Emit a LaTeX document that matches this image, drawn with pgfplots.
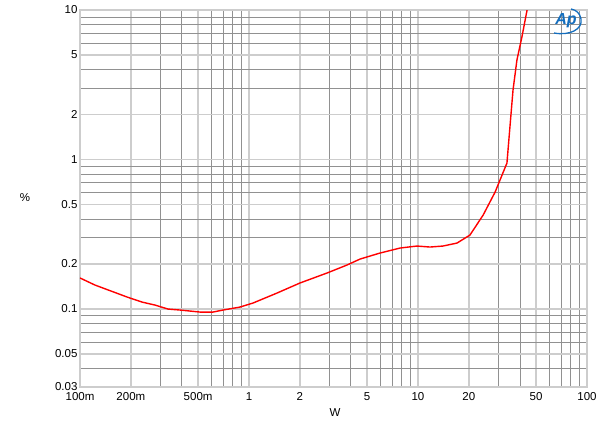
\documentclass[border=0pt]{standalone}
\usepackage{pgfplots}
\pgfplotsset{compat=1.18}
\usepackage{fontspec}
\setmainfont{Liberation Sans}
\definecolor{apblue}{RGB}{20,110,190}
\definecolor{majgrid}{RGB}{205,205,205}
\definecolor{mingrid}{RGB}{145,145,145}
\begin{document}
\begin{tikzpicture}[x=1pt,y=1pt]
\begin{axis}[
  at={(0,0)}, anchor=south west,
  scale only axis, width=507pt, height=377pt,
  xmode=log, ymode=log,
  xmin=0.1, xmax=100, ymin=0.03, ymax=10,
  xtick={0.1,0.2,0.5,1,2,5,10,20,50,100},
  xticklabels={100m,200m,500m,1,2,5,10,20,50,100},
  minor xtick={0.3,0.4,0.6,0.7,0.8,0.9,3,4,6,7,8,9,30,40,60,70,80,90},
  ytick={0.03,0.05,0.1,0.2,0.5,1,2,5,10},
  yticklabels={0.03,0.05,0.1,0.2,0.5,1,2,5,10},
  minor ytick={0.04,0.06,0.07,0.08,0.09,0.3,0.4,0.6,0.7,0.8,0.9,3,4,6,7,8,9},
  grid=both,
  major grid style={majgrid, line width=1.3pt},
  minor grid style={mingrid, line width=0.5pt},
  major tick length=0pt, minor tick length=0pt,
  axis line style={majgrid, line width=1.3pt},
  tick label style={font=\fontsize{11.5}{13}\selectfont, text=black},
  xticklabel style={yshift=-2pt},
  yticklabel style={xshift=1pt},
]
\addplot[red, line width=1.4pt] coordinates {
(0.1,0.161) (0.1227,0.1443) (0.190,0.120) (0.233,0.111) (0.278,0.106)
(0.332,0.0997) (0.391,0.0982) (0.513,0.0952) (0.612,0.0952) (0.702,0.0982)
(0.884,0.1028) (1.056,0.1094) (1.465,0.1276) (2.003,0.149) (2.893,0.1737)
(3.80,0.1965) (4.54,0.2154) (5.96,0.2364) (7.83,0.2553) (9.86,0.2633)
(11.78,0.2593) (14.06,0.2633) (17.02,0.2757) (20.3,0.3119) (24.3,0.4246)
(28.6,0.605) (33.6,0.946) (35.0,1.65) (36.5,2.91) (38.5,4.63) (41.2,6.6) (44.2,10)
};
\end{axis}
\node[font=\fontsize{11.5}{13}\selectfont] at (-55,189) {\%};
\node[font=\fontsize{11.5}{13}\selectfont] at (255,-26) {W};
\node[font=\fontsize{16}{18}\selectfont\bfseries\itshape, text=apblue] at (486,366) {Ap};
\draw[apblue, line width=1.3pt] (474,354) .. controls (490,351) and (503,358) .. (501,368) .. controls (500,374) and (496,377) .. (491,378);
\path[use as bounding box] (-80,-44) rectangle (520,387);
\end{tikzpicture}
\end{document}
